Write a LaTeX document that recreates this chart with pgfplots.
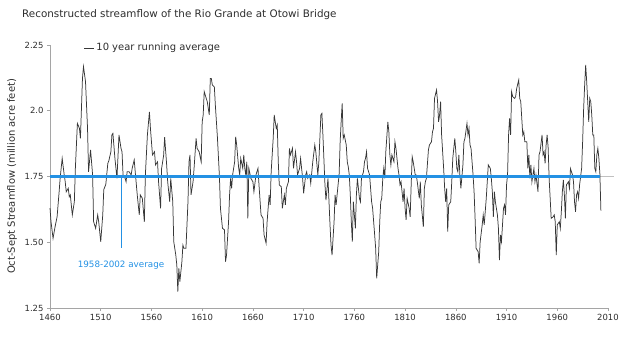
\documentclass[border=0pt]{standalone}
\usepackage{fontspec}
\setmainfont{DejaVu Sans}
\usepackage{pgfplots}
\pgfplotsset{compat=1.18}

\definecolor{flowblue}{RGB}{35,145,228}
\definecolor{linegray}{RGB}{55,55,55}
\definecolor{axisgray}{RGB}{165,165,165}
\definecolor{textgray}{RGB}{45,45,45}

\begin{document}
\begin{tikzpicture}
\useasboundingbox (0,0) rectangle (620bp,340bp);
\node[anchor=base west, inner sep=0pt, text=textgray, font=\fontsize{10.4}{12}\selectfont]
  at (22bp,322bp) {Reconstructed streamflow of the Rio Grande at Otowi Bridge};

\begin{axis}[
    at={(50bp,32bp)}, anchor=south west,
    scale only axis, width=558bp, height=263bp,
    xmin=1460, xmax=2010, ymin=1.25, ymax=2.25,
    axis x line*=bottom, axis y line*=left,
    axis line style={axisgray, line width=0.6pt},
    tick style={axisgray, line width=0.6pt},
    tick align=outside, major tick length=3bp,
    xtick={1460,1510,...,2010},
    ytick={1.25,1.5,1.75,2,2.25},
    yticklabels={1.25,1.50,1.75,2.0,2.25},
    /pgf/number format/1000 sep={},
    /pgf/number format/assume math mode=true,
    ticklabel style={font=\fontsize{8.5}{10}\selectfont, text=textgray},
    ylabel={Oct-Sept Streamflow (million acre feet)},
    every axis y label/.style={at={(axis description cs:-0.068,0.5)}, anchor=center, rotate=90,
        font=\fontsize{10}{12}\selectfont, text=textgray},
    legend style={draw=none, fill=none, at={(axis description cs:0.06,0.989)}, anchor=west,
        font=\fontsize{10}{12}\selectfont, text=textgray, inner sep=0pt},
    legend cell align=left,
    legend image code/.code={\draw[#1] (0bp,0bp) -- (10bp,0bp);},
    clip=false,
]
% light reference line under the data
\addplot[axisgray!70, line width=0.5pt, forget plot] coordinates {(1460,1.75) (2016,1.75)};

% 10 year running average
\addplot[linegray, line width=0.75pt] coordinates {
(1460,1.630) (1461,1.578) (1463,1.515) (1465,1.559) (1467,1.597) (1469,1.692) (1470,1.743) (1472,1.819)
(1474,1.756) (1475,1.730) (1476,1.692) (1478,1.705) (1479,1.673) (1480,1.680) (1482,1.604) (1484,1.654)
(1485,1.781) (1487,1.952) (1489,1.933) (1490,1.895) (1492,2.123) (1493,2.168) (1495,2.111) (1497,1.933)
(1498,1.768) (1500,1.851) (1502,1.756) (1503,1.578) (1505,1.553) (1507,1.604) (1508,1.578) (1510,1.502)
(1512,1.604) (1513,1.700) (1515,1.720) (1517,1.800) (1518,1.810) (1520,1.844) (1521,1.908) (1522,1.914)
(1524,1.819) (1525,1.781) (1526,1.743) (1528,1.908) (1530,1.857) (1531,1.844) (1532,1.756) (1534,1.743)
(1535,1.730) (1536,1.768) (1538,1.768) (1540,1.756) (1541,1.781) (1543,1.813) (1544,1.768) (1546,1.680)
(1548,1.604) (1549,1.680) (1551,1.667) (1553,1.578) (1554,1.756) (1556,1.908) (1558,1.996) (1559,1.933)
(1561,1.832) (1563,1.844) (1564,1.794) (1566,1.806) (1567,1.730) (1569,1.629) (1570,1.780) (1572,1.830)
(1573,1.900) (1575,1.794) (1576,1.730) (1578,1.654) (1579,1.743) (1581,1.654) (1582,1.502) (1584,1.451)
(1585,1.413) (1586,1.312) (1587,1.401) (1588,1.350) (1590,1.426) (1591,1.489) (1592,1.477) (1594,1.477)
(1596,1.654) (1597,1.806) (1598,1.832) (1599,1.680) (1601,1.730) (1602,1.781) (1604,1.895) (1605,1.857)
(1607,1.844) (1609,1.806) (1610,1.958) (1611,1.984) (1612,2.073) (1614,2.047) (1615,2.035) (1617,1.984)
(1618,2.123) (1619,2.123) (1620,2.098) (1622,2.090) (1623,2.020) (1625,1.900) (1627,1.750) (1628,1.629)
(1630,1.553) (1632,1.547) (1633,1.426) (1634,1.451) (1636,1.578) (1637,1.680) (1638,1.743) (1639,1.705)
(1640,1.756) (1642,1.806) (1643,1.901) (1644,1.870) (1646,1.781) (1647,1.756) (1648,1.819) (1650,1.781)
(1651,1.832) (1652,1.781) (1653,1.756) (1654,1.806) (1655,1.591) (1656,1.781) (1658,1.743) (1660,1.730)
(1661,1.692) (1663,1.756) (1665,1.781) (1666,1.718) (1668,1.604) (1670,1.591) (1671,1.528) (1673,1.496)
(1674,1.578) (1676,1.680) (1677,1.642) (1678,1.768) (1680,1.895) (1681,1.984) (1683,1.933) (1684,1.946)
(1685,1.806) (1686,1.718) (1688,1.711) (1689,1.629) (1691,1.680) (1692,1.642) (1693,1.705) (1695,1.730)
(1696,1.857) (1697,1.832) (1698,1.844) (1699,1.857) (1700,1.781) (1702,1.844) (1703,1.806) (1704,1.756)
(1706,1.781) (1707,1.819) (1709,1.743) (1710,1.686) (1712,1.756) (1713,1.768) (1714,1.743) (1716,1.756)
(1717,1.724) (1719,1.806) (1721,1.870) (1722,1.844) (1724,1.756) (1725,1.806) (1727,1.984) (1728,1.990)
(1729,1.908) (1731,1.720) (1732,1.660) (1733,1.700) (1734,1.743) (1736,1.566) (1737,1.489) (1738,1.451)
(1740,1.578) (1741,1.680) (1742,1.642) (1744,1.720) (1745,1.760) (1746,1.882) (1747,1.960) (1748,2.028)
(1749,1.895) (1750,1.908) (1752,1.870) (1753,1.806) (1754,1.787) (1755,1.756) (1756,1.680) (1757,1.578)
(1758,1.502) (1759,1.654) (1761,1.553) (1762,1.680) (1763,1.743) (1765,1.667) (1766,1.654) (1767,1.743)
(1769,1.768) (1770,1.806) (1771,1.819) (1772,1.844) (1773,1.781) (1775,1.756) (1776,1.705) (1777,1.654)
(1778,1.629) (1780,1.528) (1781,1.477) (1782,1.363) (1784,1.464) (1785,1.578) (1786,1.654) (1787,1.667)
(1788,1.743) (1789,1.781) (1790,1.743) (1791,1.844) (1793,1.958) (1794,1.920) (1795,1.832) (1796,1.794)
(1797,1.832) (1799,1.806) (1800,1.882) (1801,1.857) (1803,1.781) (1804,1.756) (1805,1.718) (1806,1.730)
(1808,1.654) (1809,1.705) (1810,1.629) (1811,1.585) (1812,1.667) (1814,1.629) (1815,1.597) (1816,1.718)
(1817,1.825) (1818,1.806) (1820,1.756) (1821,1.756) (1822,1.730) (1824,1.667) (1825,1.730) (1826,1.642)
(1828,1.559) (1829,1.705) (1830,1.730) (1831,1.743) (1833,1.851) (1834,1.870) (1836,1.882) (1837,1.920)
(1838,1.933) (1839,2.047) (1841,2.079) (1842,2.035) (1843,1.958) (1844,1.984) (1845,2.035) (1846,1.908)
(1848,1.781) (1849,1.705) (1850,1.654) (1851,1.705) (1852,1.540) (1853,1.642) (1855,1.654) (1856,1.730)
(1857,1.819) (1859,1.895) (1860,1.844) (1861,1.781) (1862,1.768) (1863,1.832) (1864,1.756) (1865,1.705)
(1867,1.794) (1868,1.882) (1869,1.895) (1871,1.952) (1872,1.908) (1873,1.933) (1874,1.870) (1875,1.857)
(1877,1.756) (1878,1.692) (1879,1.591) (1880,1.477) (1882,1.464) (1883,1.420) (1884,1.502) (1886,1.566)
(1887,1.604) (1888,1.566) (1890,1.667) (1891,1.730) (1892,1.794) (1894,1.781) (1895,1.743) (1896,1.692)
(1897,1.597) (1898,1.692) (1899,1.654) (1901,1.604) (1902,1.553) (1903,1.432) (1904,1.528) (1905,1.502)
(1907,1.629) (1908,1.642) (1909,1.604) (1910,1.718) (1911,1.756) (1912,1.908) (1913,1.971) (1914,1.908)
(1915,2.073) (1916,2.054) (1918,2.047) (1919,2.054) (1920,2.085) (1922,2.117) (1923,2.047) (1924,2.035)
(1926,1.908) (1927,1.920) (1928,1.882) (1930,1.882) (1931,1.781) (1932,1.832) (1933,1.743) (1934,1.794)
(1935,1.730) (1937,1.781) (1938,1.730) (1939,1.756) (1941,1.692) (1942,1.832) (1943,1.844) (1945,1.908)
(1946,1.832) (1947,1.844) (1948,1.800) (1949,1.870) (1950,1.908) (1951,1.860) (1952,1.740) (1953,1.667)
(1954,1.591) (1956,1.597) (1957,1.604) (1958,1.578) (1959,1.451) (1960,1.566) (1962,1.578) (1963,1.553)
(1964,1.616) (1965,1.692) (1966,1.737) (1967,1.680) (1968,1.591) (1969,1.718) (1971,1.730) (1972,1.705)
(1973,1.780) (1975,1.756) (1976,1.730) (1977,1.654) (1978,1.616) (1979,1.680) (1980,1.692) (1981,1.667)
(1982,1.718) (1984,1.781) (1985,1.882) (1986,2.009) (1987,2.098) (1988,2.174) (1989,2.111) (1990,2.035)
(1991,1.958) (1992,2.047) (1993,2.035) (1994,1.984) (1995,1.908) (1996,1.908) (1997,1.781) (1998,1.768)
(1999,1.832) (2000,1.857) (2001,1.819) (2002,1.760) (2003,1.620)
};
\addlegendentry{10 year running average}

% 1958-2002 average
\addplot[flowblue, line width=2.4pt, forget plot] coordinates {(1460,1.75) (2002,1.75)};
\addplot[flowblue, line width=0.9pt, forget plot] coordinates {(1530,1.75) (1530,1.478)};
\node[text=flowblue, font=\fontsize{8.8}{10}\selectfont] at (axis cs:1530,1.413) {1958-2002 average};
\end{axis}
\end{tikzpicture}
\end{document}
